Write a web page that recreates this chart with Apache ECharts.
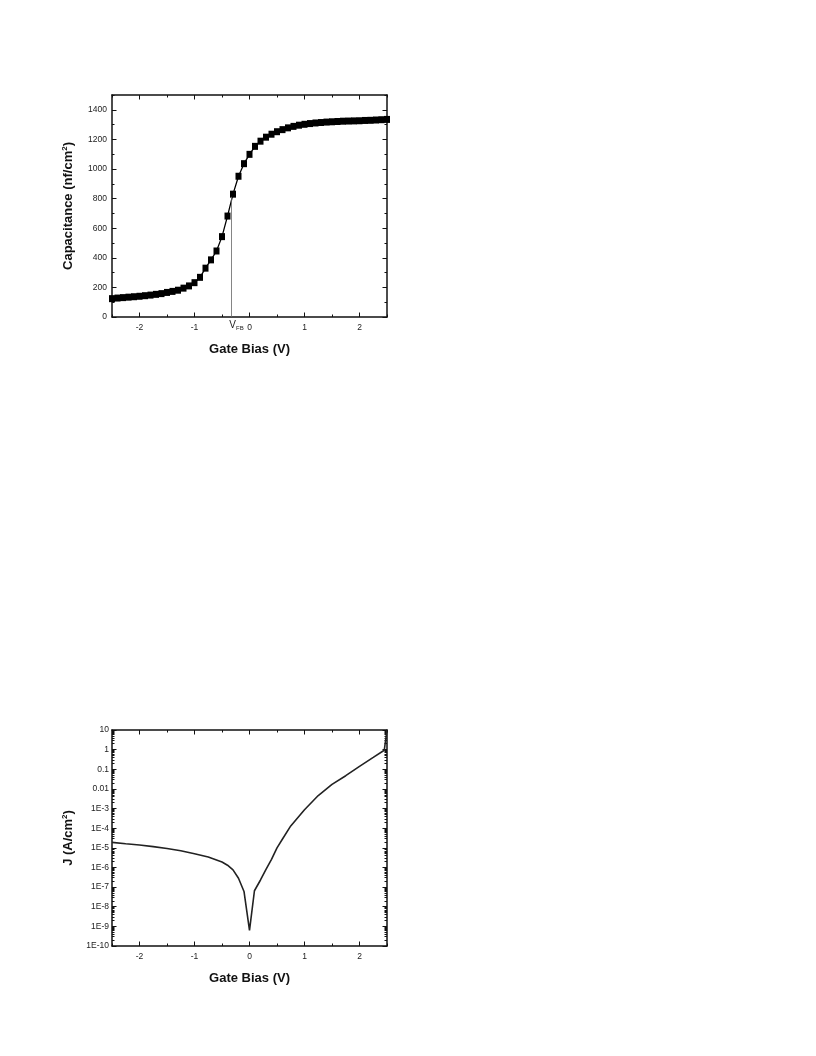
<!DOCTYPE html>
<html>
<head>
<meta charset="utf-8">
<script src="https://cdn.jsdelivr.net/npm/echarts@6/dist/echarts.min.js"></script>
<style>
html,body{margin:0;padding:0;background:#fff;}
#c{width:816px;height:1056px;}
</style>
</head>
<body>
<div id="c"></div>
<script>
// ---- Capacitance vs gate bias (top chart) ----
const capVoltage = [-2.5,-2.4,-2.3,-2.2,-2.1,-2.0,-1.9,-1.8,-1.7,-1.6,-1.5,-1.4,-1.3,-1.2,-1.1,-1.0,-0.9,-0.8,-0.7,-0.6,-0.5,-0.4,-0.3,-0.2,-0.1,0.0,0.1,0.2,0.3,0.4,0.5,0.6,0.7,0.8,0.9,1.0,1.1,1.2,1.3,1.4,1.5,1.6,1.7,1.8,1.9,2.0,2.1,2.2,2.3,2.4,2.5];
const capValues = [124,128,131,134,137,140,144,148,153,158,166,173,181,195,210,232,268,330,386,446,543,682,830,951,1036,1099,1153,1188,1215,1235,1252,1266,1278,1288,1296,1302,1307,1311,1314,1317,1319,1321,1323,1324,1325,1326,1328,1329,1331,1333,1335];
const vfbVoltage = -0.33;
const vfbTop = 812;
const capTickLabels = [0,200,400,600,800,1000,1200,1400];
const biasTickLabels = [-2,-1,0,1,2];

// ---- Current density vs gate bias (bottom chart) ----
const jVoltage = [-2.5,-2.25,-2.0,-1.75,-1.5,-1.25,-1.0,-0.75,-0.5,-0.4,-0.3,-0.2,-0.1,0.0,0.09,0.2,0.3,0.4,0.5,0.6,0.75,1.0,1.25,1.5,1.75,2.0,2.25,2.45,2.5];
const jValues = [1.9e-5,1.6e-5,1.4e-5,1.15e-5,9.3e-6,7.1e-6,5.0e-6,3.4e-6,1.9e-6,1.3e-6,7.5e-7,2.8e-7,6.0e-8,6.3e-10,6.5e-8,2.3e-7,8.0e-7,2.6e-6,1.0e-5,2.8e-5,1.3e-4,8.7e-4,4.6e-3,1.7e-2,4.7e-2,0.14,0.4,0.93,10];
const jTickLabels = ['10','1','0.1','0.01','1E-3','1E-4','1E-5','1E-6','1E-7','1E-8','1E-9','1E-10'];

const FONT = 'Liberation Sans, Arial, sans-serif';
const AX = '#111';
const capData = capVoltage.map((v,i)=>[v,capValues[i]]);
const jData = jVoltage.map((v,i)=>[v,jValues[i]]);

// log minor tick positions (2..9 per decade)
const logMinor = [];
for (let e=-10;e<1;e++){ for (let m=2;m<10;m++){ logMinor.push(m*Math.pow(10,e)); } }
const logMajor = [];
for (let e=-10;e<=1;e++){ logMajor.push(Math.pow(10,e)); }

function line(show){ return {show:show,onZero:false,lineStyle:{color:AX,width:1.5}}; }

function xAxes(grid){
  const base = {gridIndex:grid,type:'value',min:-2.5,max:2.5,interval:0.5,splitLine:{show:false}};
  return [
    Object.assign({},base,{position:'bottom',
      axisLine:line(true),
      axisTick:{show:true,inside:true,length:2.5,lineStyle:{color:AX,width:1}},
      axisLabel:{show:true,color:'#222',fontFamily:FONT,fontSize:8.5,margin:6,customValues:biasTickLabels,formatter:v=>String(v)},
      name:'Gate Bias (V)',nameLocation:'middle',nameGap:26,
      nameTextStyle:{fontFamily:FONT,fontSize:13,fontWeight:'bold',color:'#111'}}),
    Object.assign({},base,{position:'bottom',
      axisLine:line(false),
      axisTick:{show:true,inside:true,length:4.5,customValues:biasTickLabels,lineStyle:{color:AX,width:1}},
      axisLabel:{show:false}}),
    Object.assign({},base,{position:'top',
      axisLine:line(true),
      axisTick:{show:true,inside:true,length:2.5,lineStyle:{color:AX,width:1}},
      axisLabel:{show:false}}),
    Object.assign({},base,{position:'top',
      axisLine:line(false),
      axisTick:{show:true,inside:true,length:4.5,customValues:biasTickLabels,lineStyle:{color:AX,width:1}},
      axisLabel:{show:false}})
  ];
}

const capBase = {gridIndex:0,type:'value',min:0,max:1500,interval:100,splitLine:{show:false}};
const jBase = {gridIndex:1,type:'log',logBase:10,min:1e-10,max:10,splitLine:{show:false}};
const nameRich = {a:{fontFamily:FONT,fontSize:13,fontWeight:'bold',color:'#111'},
                  s:{fontFamily:FONT,fontSize:8,fontWeight:'bold',color:'#111',padding:[0,0,7,0]}};

const option = {
  animation:false,
  backgroundColor:'#fff',
  grid:[
    {left:112,top:95,width:275,height:222},
    {left:112,top:730,width:275,height:216}
  ],
  xAxis:[].concat(xAxes(0), xAxes(1)),
  yAxis:[
    Object.assign({},capBase,{position:'left',
      axisLine:line(true),
      axisTick:{show:true,inside:true,length:2.5,lineStyle:{color:AX,width:1}},
      axisLabel:{show:true,color:'#222',fontFamily:FONT,fontSize:8.5,margin:5,customValues:capTickLabels,formatter:v=>String(v)},
      name:'{a|Capacitance (nf/cm}{s|2}{a|)}',nameLocation:'middle',nameGap:36,
      nameTextStyle:{fontFamily:FONT,fontSize:13,fontWeight:'bold',color:'#111',rich:nameRich}}),
    Object.assign({},capBase,{position:'left',
      axisLine:line(false),
      axisTick:{show:true,inside:true,length:4.5,customValues:capTickLabels,lineStyle:{color:AX,width:1}},
      axisLabel:{show:false}}),
    Object.assign({},capBase,{position:'right',
      axisLine:line(true),
      axisTick:{show:true,inside:true,length:2.5,lineStyle:{color:AX,width:1}},
      axisLabel:{show:false}}),
    Object.assign({},capBase,{position:'right',
      axisLine:line(false),
      axisTick:{show:true,inside:true,length:4.5,customValues:capTickLabels,lineStyle:{color:AX,width:1}},
      axisLabel:{show:false}}),

    Object.assign({},jBase,{position:'left',
      axisLine:line(true),
      axisTick:{show:true,inside:true,length:4.5,customValues:logMajor,lineStyle:{color:AX,width:1}},
      axisLabel:{show:true,color:'#222',fontFamily:FONT,fontSize:8.5,margin:3,customValues:logMajor,
        formatter:v=>{const e=Math.round(Math.log10(v)); return jTickLabels[1-e];}},
      name:'{a|J (A/cm}{s|2}{a|)}',nameLocation:'middle',nameGap:36,
      nameTextStyle:{fontFamily:FONT,fontSize:13,fontWeight:'bold',color:'#111',rich:nameRich}}),
    Object.assign({},jBase,{position:'left',
      axisLine:line(false),
      axisTick:{show:true,inside:true,length:2.5,customValues:logMinor,lineStyle:{color:AX,width:1}},
      axisLabel:{show:false}}),
    Object.assign({},jBase,{position:'right',
      axisLine:line(true),
      axisTick:{show:true,inside:true,length:4.5,customValues:logMajor,lineStyle:{color:AX,width:1}},
      axisLabel:{show:false}}),
    Object.assign({},jBase,{position:'right',
      axisLine:line(false),
      axisTick:{show:true,inside:true,length:2.5,customValues:logMinor,lineStyle:{color:AX,width:1}},
      axisLabel:{show:false}})
  ],
  series:[
    {type:'line',xAxisIndex:0,yAxisIndex:0,data:capData,
      symbol:'rect',symbolSize:[6,7],itemStyle:{color:'#000'},
      lineStyle:{color:'#000',width:1.3},
      markLine:{silent:true,symbol:['none','none'],
        lineStyle:{color:'#666',width:0.8,type:'solid'},
        label:{show:true,position:'start',distance:3,align:'left',offset:[-2,0],
          formatter:'{v|V}{s|FB}',
          rich:{v:{fontFamily:FONT,fontSize:10,color:'#222'},
                s:{fontFamily:FONT,fontSize:6,color:'#222',padding:[5,0,0,0]}}},
        data:[[{coord:[vfbVoltage,0]},{coord:[vfbVoltage,vfbTop]}]]}},
    {type:'line',xAxisIndex:4,yAxisIndex:4,data:jData,
      symbol:'none',lineStyle:{color:'#222',width:1.6}}
  ]
};
const chart = echarts.init(document.getElementById('c'),null,{renderer:'canvas'});
chart.setOption(option);
</script>
</body>
</html>
